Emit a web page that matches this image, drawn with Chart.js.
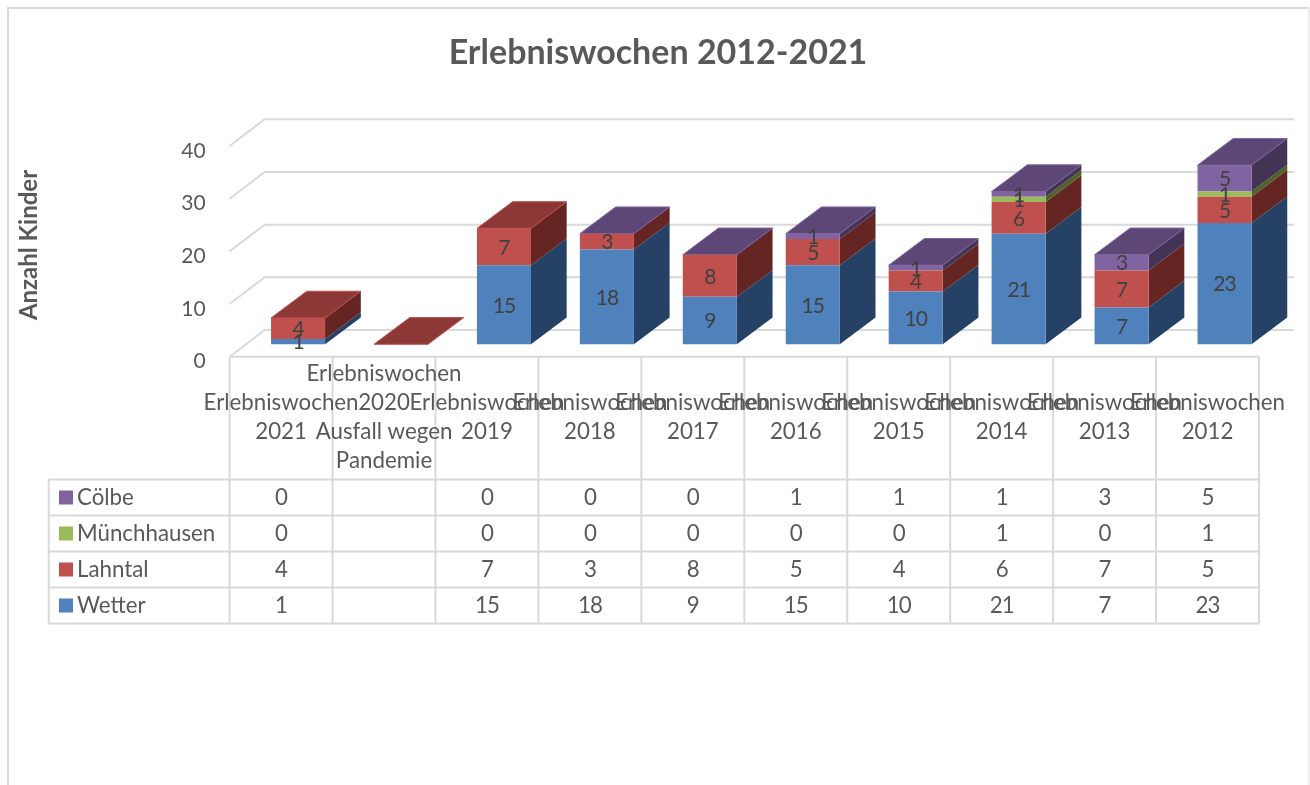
<!DOCTYPE html>
<html lang="de">
<head>
<meta charset="utf-8">
<title>Erlebniswochen 2012-2021</title>
<style>
    html, body { margin: 0; padding: 0; background: #fff; }
    #wrap { width: 1310px; height: 785px; position: relative; }
</style>
<script src="https://cdn.jsdelivr.net/npm/chart.js@4/dist/chart.umd.min.js"></script>
</head>
<body>
<div id="wrap"><canvas id="chart" width="1310" height="785"></canvas></div>
<script>
// Kategorien und Werte
const categories = [
    ['Erlebniswochen', '2021'],
    ['Erlebniswochen', '2020', 'Ausfall wegen', 'Pandemie'],
    ['Erlebniswochen', '2019'],
    ['Erlebniswochen', '2018'],
    ['Erlebniswochen', '2017'],
    ['Erlebniswochen', '2016'],
    ['Erlebniswochen', '2015'],
    ['Erlebniswochen', '2014'],
    ['Erlebniswochen', '2013'],
    ['Erlebniswochen', '2012']
];
const wetter = [1, null, 15, 18, 9, 15, 10, 21, 7, 23];
const lahntal = [4, null, 7, 3, 8, 5, 4, 6, 7, 5];
const muenchhausen = [0, null, 0, 0, 0, 0, 0, 1, 0, 1];
const coelbe = [0, null, 0, 0, 0, 1, 1, 1, 3, 5];
const yTicks = [0, 10, 20, 30, 40];

// Farbe der Deckfläche je Spalte (Index der Reihe)
const topSeries = [1, 1, 1, 3, 3, 3, 3, 3, 3, 3];

const series = [
    { label: 'Wetter', data: wetter, front: '#4f81bd', side: '#254166', top: '#30527c' },
    { label: 'Lahntal', data: lahntal, front: '#c0504d', side: '#652623', top: '#8c3836' },
    { label: 'Münchhausen', data: muenchhausen, front: '#9bbb59', side: '#4f6228', top: '#75903f' },
    { label: 'Cölbe', data: coelbe, front: '#8064a2', side: '#433355', top: '#5c4776' }
];

const FONT = 'Lato, sans-serif';
const GRID = '#d9d9d9';
const TEXT = '#595959';
// Tiefe der 3D-Balken und der Rückwand
const DEPTH_X = 35.7, DEPTH_Y = 26.7;
const WALL_DX = 35, WALL_DY = 26.7, WALL_LIFT = 4.8, WALL_RIGHT = 1294;
// Balken sitzen etwas rechts von der Tabellenspalte
const BAR_SHIFT = 17;
const TABLE_LEFT = 48.7, TABLE_HEADER_BOTTOM = 479.5, ROW_H = 36;

function poly(ctx, pts, fill, stroke) {
    ctx.beginPath();
    pts.forEach((p, i) => i ? ctx.lineTo(p[0], p[1]) : ctx.moveTo(p[0], p[1]));
    ctx.closePath();
    ctx.fillStyle = fill;
    ctx.fill();
    if (stroke) {
        ctx.strokeStyle = stroke;
        ctx.lineWidth = 1;
        ctx.stroke();
    }
}

// Rückwand, Boden und 3D-Flächen hinter den Balken
const depthPlugin = {
    id: 'depth',
    beforeDatasetsDraw(chart) {
        const ctx = chart.ctx;
        const y = chart.scales.y, yBar = chart.scales.yBar, x = chart.scales.x;
        const wallLeft = x.left - BAR_SHIFT;

        ctx.save();
        ctx.strokeStyle = GRID;
        ctx.lineWidth = 2;
        yTicks.forEach(v => {
            const py = y.getPixelForValue(v) - WALL_LIFT;
            ctx.beginPath();
            ctx.moveTo(wallLeft, py);
            ctx.lineTo(wallLeft + WALL_DX, py - WALL_DY);
            ctx.lineTo(WALL_RIGHT, py - WALL_DY);
            ctx.stroke();
        });

        const barW = chart.getDatasetMeta(0).data[0].width;
        categories.forEach((c, i) => {
            const cx = x.getPixelForValue(i);
            const l = cx - barW / 2, r = cx + barW / 2;
            let sum = 0;
            series.forEach(s => {
                const v = s.data[i] || 0;
                if (v > 0) {
                    const y0 = yBar.getPixelForValue(sum), y1 = yBar.getPixelForValue(sum + v);
                    poly(ctx, [[r, y0], [r + DEPTH_X, y0 - DEPTH_Y], [r + DEPTH_X, y1 - DEPTH_Y], [r, y1]], s.side);
                }
                sum += v;
            });
            const ty = yBar.getPixelForValue(sum);
            const s = series[topSeries[i]];
            poly(ctx, [[l, ty], [r, ty], [r + DEPTH_X, ty - DEPTH_Y], [l + DEPTH_X, ty - DEPTH_Y]], s.top, s.front);
        });
        ctx.restore();
    },
    // Wertebeschriftung, Datentabelle, Achsentitel und Rahmen
    afterDraw(chart) {
        const ctx = chart.ctx;
        const x = chart.scales.x, yBar = chart.scales.yBar;
        ctx.save();

        ctx.font = '21px ' + FONT;
        ctx.fillStyle = '#404040';
        ctx.textAlign = 'center';
        ctx.textBaseline = 'middle';
        ctx.letterSpacing = '-1px';
        categories.forEach((c, i) => {
            let sum = 0;
            series.forEach(s => {
                const v = s.data[i];
                if (v) {
                    ctx.fillText(String(v), x.getPixelForValue(i), yBar.getPixelForValue(sum + v / 2) + 1);
                    sum += v;
                }
            });
        });
        ctx.letterSpacing = '0px';

        const colW = x.getPixelForValue(1) - x.getPixelForValue(0);
        const colX = i => x.getPixelForValue(i) - BAR_SHIFT;
        const left = colX(0) - colW / 2;
        const right = left + colW * categories.length;
        const head = chart.scales.y.getPixelForValue(0) - WALL_LIFT;
        const rows = series.slice().reverse();
        const bottom = TABLE_HEADER_BOTTOM + ROW_H * rows.length;

        ctx.strokeStyle = GRID;
        ctx.lineWidth = 2;
        ctx.beginPath();
        for (let i = 0; i <= categories.length; i++) {
            ctx.moveTo(left + colW * i, head);
            ctx.lineTo(left + colW * i, bottom);
        }
        ctx.moveTo(left, head);
        ctx.lineTo(right, head);
        for (let r = 0; r <= rows.length; r++) {
            ctx.moveTo(TABLE_LEFT, TABLE_HEADER_BOTTOM + ROW_H * r);
            ctx.lineTo(right, TABLE_HEADER_BOTTOM + ROW_H * r);
        }
        ctx.moveTo(TABLE_LEFT, TABLE_HEADER_BOTTOM);
        ctx.lineTo(TABLE_LEFT, bottom);
        ctx.stroke();

        ctx.fillStyle = TEXT;
        ctx.font = '22.3px ' + FONT;
        ctx.textAlign = 'center';
        categories.forEach((lines, i) => {
            const mid = 417.5;
            lines.forEach((t, n) => {
                ctx.fillText(t, colX(i), mid + (n - (lines.length - 1) / 2) * 29);
            });
        });

        rows.forEach((s, r) => {
            const cy = TABLE_HEADER_BOTTOM + ROW_H * (r + 0.5);
            ctx.fillStyle = s.front;
            ctx.fillRect(59, cy - 7, 14, 14);
            ctx.fillStyle = TEXT;
            ctx.textAlign = 'left';
            ctx.fillText(s.label, 77, cy);
            ctx.textAlign = 'center';
            ctx.letterSpacing = '-1px';
            s.data.forEach((v, i) => {
                if (v !== null) ctx.fillText(String(v), colX(i), cy);
            });
            ctx.letterSpacing = '0px';
        });

        ctx.translate(29, 245);
        ctx.rotate(-Math.PI / 2);
        ctx.font = 'bold 24px ' + FONT;
        ctx.fillStyle = TEXT;
        ctx.fillText('Anzahl Kinder', 0, 0);
        ctx.setTransform(1, 0, 0, 1, 0, 0);

        ctx.strokeStyle = GRID;
        ctx.lineWidth = 2;
        ctx.beginPath();
        ctx.moveTo(8, 785);
        ctx.lineTo(8, 8);
        ctx.lineTo(1309, 8);
        ctx.stroke();
        ctx.strokeStyle = '#efefef';
        ctx.beginPath();
        ctx.moveTo(1309, 8);
        ctx.lineTo(1309, 785);
        ctx.stroke();
        ctx.restore();
    }
};

new Chart(document.getElementById('chart').getContext('2d'), {
    type: 'bar',
    plugins: [depthPlugin],
    data: {
        labels: categories,
        datasets: series.map(s => ({
            label: s.label,
            data: s.data,
            backgroundColor: s.front,
            borderWidth: 0,
            yAxisID: 'yBar',
            barPercentage: 0.525,
            categoryPercentage: 1
        }))
    },
    options: {
        responsive: false,
        animation: false,
        layout: { padding: { left: 40, right: 34, top: 0, bottom: 423.5 } },
        plugins: {
            legend: { display: false },
            tooltip: { enabled: false },
            title: {
                display: true,
                text: 'Erlebniswochen 2012-2021',
                color: TEXT,
                font: { family: FONT, size: 34, weight: 'bold', lineHeight: 1.2 },
                padding: { top: 33, bottom: 77 }
            }
        },
        scales: {
            x: { stacked: true, display: false },
            y: {
                position: 'left',
                min: 0,
                max: 40,
                afterFit(scale) { scale.width = 206.6; },
                grid: { display: false },
                border: { display: false },
                ticks: {
                    stepSize: 10,
                    padding: 33,
                    color: TEXT,
                    font: { family: FONT, size: 21 }
                }
            },
            // Balkenskala: Nullpunkt liegt auf dem Boden vor der Rückwand
            yBar: {
                display: false,
                stacked: true,
                min: -3.27,
                max: 36.73
            }
        }
    }
});
</script>
</body>
</html>
